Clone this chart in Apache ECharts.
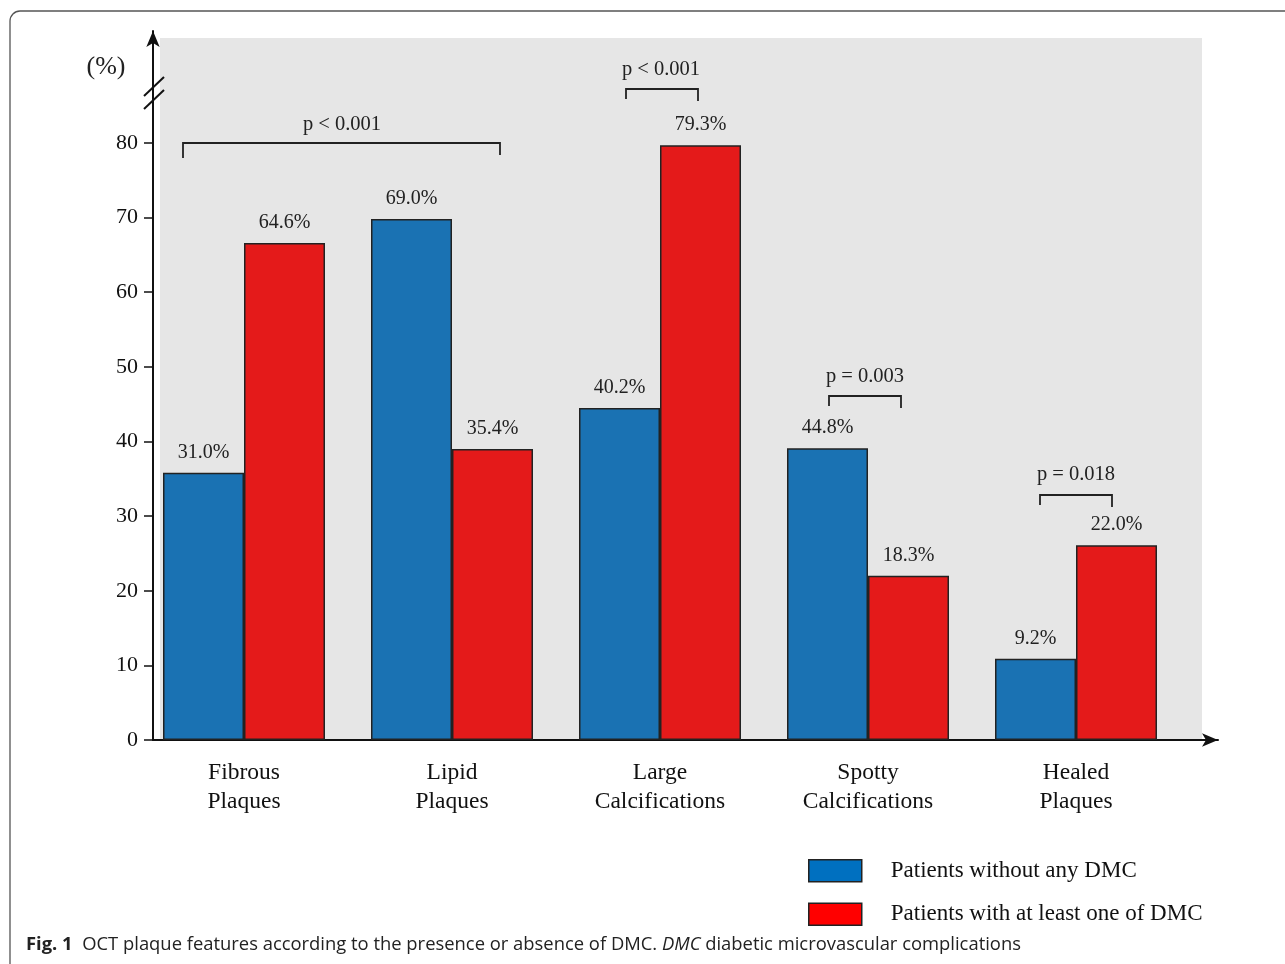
<!DOCTYPE html>
<html>
<head>
<meta charset="utf-8">
<script src="https://cdn.jsdelivr.net/npm/echarts@6/dist/echarts.min.js"></script>
<style>html,body{margin:0;padding:0;background:#fff;}#c{width:1285px;height:964px;}</style>
</head>
<body>
<div id="c"></div>
<script>
// ---- data ----
const categories = ['Fibrous\nPlaques', 'Lipid\nPlaques', 'Large\nCalcifications', 'Spotty\nCalcifications', 'Healed\nPlaques'];
const seriesNames = ['Patients without any DMC', 'Patients with at least one of DMC'];
// bar heights as drawn in the figure (read against the axis)
const withoutDMC = [35.8, 69.8, 44.5, 39.1, 10.9];
const withDMC = [66.6, 39.0, 79.7, 22.0, 26.1];
// printed percentage labels
const withoutLabels = ['31.0%', '69.0%', '40.2%', '44.8%', '9.2%'];
const withLabels = ['64.6%', '35.4%', '79.3%', '18.3%', '22.0%'];
const yTicks = [0, 10, 20, 30, 40, 50, 60, 70, 80];
const pTexts = ['p < 0.001', 'p < 0.001', 'p = 0.003', 'p = 0.018'];

const SERIF = "'Liberation Serif','Times New Roman',serif";
const SANS = "'Open Sans','Noto Sans',sans-serif";
const chart = echarts.init(document.getElementById('c'));

function bracket(x0, x1, y, l0, l1, text, tx, ty) {
  return [
    {type: 'polyline', shape: {points: [[x0, y + l0], [x0, y], [x1, y], [x1, y + l1]]},
     style: {stroke: '#222', lineWidth: 1.8, fill: null}, z: 10},
    {type: 'text', x: tx, y: ty, style: {text: text, font: '20.5px ' + SERIF, fill: '#222', align: 'center', verticalAlign: 'middle'}, z: 10}
  ];
}

const graphics = [
  {type: 'rect', shape: {x: 10, y: 11, width: 1320, height: 1000, r: 10}, style: {fill: null, stroke: '#555', lineWidth: 1.3}, z: -10},
  {type: 'rect', shape: {x: 160, y: 38, width: 1042, height: 702}, style: {fill: '#e6e6e6'}, z: -9},
  {type: 'line', shape: {x1: 144, y1: 96, x2: 164, y2: 77}, style: {stroke: '#111', lineWidth: 2}, z: 10},
  {type: 'line', shape: {x1: 144, y1: 109, x2: 164, y2: 90}, style: {stroke: '#111', lineWidth: 2}, z: 10},
  {type: 'text', x: 106, y: 67, style: {text: '(%)', font: '26px ' + SERIF, fill: '#222', align: 'center', verticalAlign: 'middle'}, z: 10}
].concat(
  bracket(183, 500, 143, 15, 12, pTexts[0], 342, 125),
  bracket(626, 698, 89, 10, 12, pTexts[1], 661, 70),
  bracket(829, 901, 396, 10, 12, pTexts[2], 865, 377),
  bracket(1040, 1112, 495, 10, 12, pTexts[3], 1076, 475)
);

chart.setOption({
  animation: false,
  backgroundColor: '#fff',
  title: {
    left: 21, top: 931,
    text: '{b|Fig. 1}  OCT plaque features according to the presence or absence of DMC. {i|DMC} diabetic microvascular complications',
    textStyle: {
      fontFamily: SANS, fontSize: 18.4, fontWeight: 'normal', color: '#222',
      rich: {
        b: {fontFamily: SANS, fontSize: 18.4, fontWeight: 'bold', color: '#222'},
        i: {fontFamily: SANS, fontSize: 18.4, fontStyle: 'italic', color: '#222'}
      }
    }
  },
  legend: {
    orient: 'vertical', left: 803, top: 854,
    itemWidth: 53, itemHeight: 22, itemGap: 20,
    icon: 'rect',
    data: [
      {name: seriesNames[0], itemStyle: {color: '#0070c0', borderColor: '#222', borderWidth: 1.5}},
      {name: seriesNames[1], itemStyle: {color: '#ff0000', borderColor: '#222', borderWidth: 1.5}}
    ],
    textStyle: {fontFamily: SERIF, fontSize: 23, color: '#111', padding: [0, 0, 0, 24], lineHeight: 22}
  },
  grid: [
    {left: 140, right: 105, top: 31, bottom: 224},
    {left: 153, right: 67, top: 31, bottom: 224}
  ],
  xAxis: [
    {type: 'category', gridIndex: 0, data: categories,
     axisLine: {show: false}, axisTick: {show: false},
     axisLabel: {fontFamily: SERIF, fontSize: 23.5, color: '#111', lineHeight: 29, margin: 18}},
    {type: 'value', gridIndex: 1, min: 0, max: 1,
     axisLine: {show: true, symbol: ['none', 'arrow'], symbolSize: [10, 16], lineStyle: {color: '#111', width: 2}},
     axisTick: {show: false}, axisLabel: {show: false}, splitLine: {show: false}}
  ],
  yAxis: [
    {type: 'value', gridIndex: 0, min: 0, max: 95, show: false, splitLine: {show: false}},
    {type: 'value', gridIndex: 1, min: 0, max: 95,
     axisLine: {show: true, symbol: ['none', 'arrow'], symbolSize: [10, 16], lineStyle: {color: '#111', width: 2}},
     axisTick: {show: true, length: 9, customValues: yTicks, lineStyle: {color: '#111', width: 1.5}},
     axisLabel: {customValues: yTicks, fontFamily: SERIF, fontSize: 22, color: '#111', margin: 15},
     splitLine: {show: false}}
  ],
  series: [
    {name: seriesNames[0], type: 'bar', xAxisIndex: 0, yAxisIndex: 0, data: withoutDMC,
     barWidth: 81, barGap: '0%',
     itemStyle: {color: '#1a72b3', borderColor: '#222', borderWidth: 1.5},
     label: {show: true, position: 'top', distance: 10, fontFamily: SERIF, fontSize: 20, color: '#222',
             formatter: p => withoutLabels[p.dataIndex]}},
    {name: seriesNames[1], type: 'bar', xAxisIndex: 0, yAxisIndex: 0, data: withDMC,
     barWidth: 81, barGap: '0%',
     itemStyle: {color: '#e41a1a', borderColor: '#222', borderWidth: 1.5},
     label: {show: true, position: 'top', distance: 10, fontFamily: SERIF, fontSize: 20, color: '#222',
             formatter: p => withLabels[p.dataIndex]}}
  ],
  graphic: graphics
});
</script>
</body>
</html>
